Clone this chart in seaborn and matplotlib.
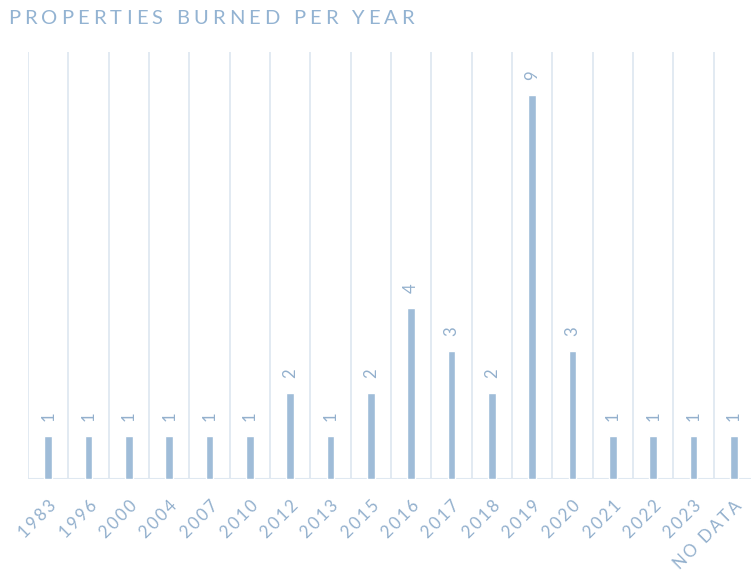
import matplotlib
matplotlib.use("Agg")
import matplotlib.pyplot as plt
import seaborn as sns
import pandas as pd

years = ["1983", "1996", "2000", "2004", "2007", "2010", "2012", "2013", "2015",
         "2016", "2017", "2018", "2019", "2020", "2021", "2022", "2023", "NO DATA"]
counts = [1, 1, 1, 1, 1, 1, 2, 1, 2, 4, 3, 2, 9, 3, 1, 1, 1, 1]
title = "PROPERTIES BURNED PER YEAR"

BAR = "#9fbcd8"
TXT = "#93b0cd"
GRID = "#dfe8f1"
FONT = "Lato"

sns.set_theme(style="white")
plt.rcParams["font.family"] = [FONT, "DejaVu Sans"]

df = pd.DataFrame({"year": years, "count": counts})

fig = plt.figure(figsize=(7.51, 5.77), dpi=100)
ax = fig.add_axes([28 / 751, 1 - 478.5 / 577, 1 - 28 / 751 + 0.004, (478.5 - 52) / 577])

sns.barplot(data=df, x="year", y="count", color=BAR, width=0.19, ax=ax,
            saturation=1, order=years)

ax.set_xlim(-0.5, 17.5)
ax.set_ylim(0, 10)
for k in range(len(years) + 1):
    ax.axvline(k - 0.5, color=GRID, lw=1.3, zorder=0)
ax.axhline(0, color=GRID, lw=1.5, zorder=0)

for s in ax.spines.values():
    s.set_visible(False)
ax.set_yticks([])
ax.set_xlabel("")
ax.set_ylabel("")
ax.tick_params(axis="x", length=0, pad=14)
ax.set_xticks(range(len(years)))
spaced = ["\u2009".join(y) for y in years]
ax.set_xticklabels(spaced, rotation=45, ha="right", va="top", rotation_mode="anchor",
                   color=TXT, fontsize=12.2)

for i, c in enumerate(counts):
    ax.text(i, c + 0.35, str(c), rotation=90, ha="center", va="bottom",
            color=TXT, fontsize=12)

# letter-spaced title
fig.canvas.draw()
renderer = fig.canvas.get_renderer()
x = 8 / 751
y = 1 - 24.5 / 577
spacing = 4.1 / 751
for ch in title:
    t = fig.text(x, y, ch, color="#93b3d2", fontsize=14.5,
                 ha="left", va="baseline")
    bb = t.get_window_extent(renderer=renderer)
    w = bb.width / 751 if ch != " " else 5.5 / 751
    x += w + spacing

fig.savefig("out.png", dpi=100)
